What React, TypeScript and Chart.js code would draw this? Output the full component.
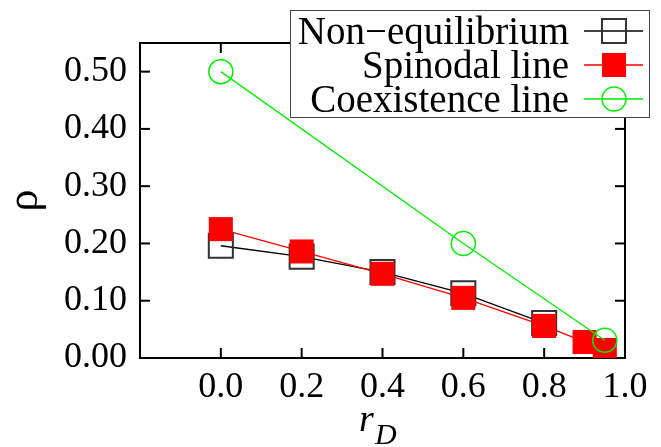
import React, { useEffect, useRef } from "react";
import { Chart, registerables } from "chart.js";

Chart.register(...registerables);

// ---- data ----
const xTickValues = [0.0, 0.2, 0.4, 0.6, 0.8, 1.0];
const yTickValues = [0.0, 0.1, 0.2, 0.3, 0.4, 0.5];
const xMin = -0.2;
const xMax = 1.0;
const yMin = 0.0;
const yMax = 0.55;

const seriesLabels = ["Non\u2212equilibrium", "Spinodal line", "Coexistence line"];

const nonEqX = [0.0, 0.2, 0.4, 0.6, 0.8];
const nonEqY = [0.196, 0.177, 0.15, 0.113, 0.061];

const spinodalX = [0.0, 0.2, 0.4, 0.6, 0.8, 0.9, 0.95];
const spinodalY = [0.225, 0.186, 0.147, 0.105, 0.056, 0.028, 0.014];

const coexX = [0.0, 0.6, 0.95];
const coexY = [0.5, 0.2, 0.031];

const xTitle = "r";
const xTitleSub = "D";
const yTitle = "\u03c1";

const FONT = "\"Liberation Serif\"";

const toPoints = (xs: number[], ys: number[]) => xs.map((x, i) => ({ x, y: ys[i] }));

const styles = [
  { color: "#000000", pointStyle: "rect", fill: "rgba(0,0,0,0)", stroke: "#333333", radius: 17, pw: 2 },
  { color: "#ff0000", pointStyle: "rect", fill: "#ff0000", stroke: "#ff0000", radius: 17, pw: 0 },
  { color: "#00ee00", pointStyle: "circle", fill: "rgba(0,0,0,0)", stroke: "#00ee00", radius: 12, pw: 1.5 },
];

const decorPlugin = {
  id: "decor",
  beforeDatasetsDraw(chart: any) {
    const { ctx, chartArea: a, scales } = chart;
    ctx.save();
    ctx.strokeStyle = "#000";
    ctx.lineWidth = 2;
    ctx.strokeRect(a.left, a.top, a.right - a.left, a.bottom - a.top);
    const tl = 10;
    const seg = (x1: number, y1: number, x2: number, y2: number) => {
      ctx.beginPath();
      ctx.moveTo(x1, y1);
      ctx.lineTo(x2, y2);
      ctx.stroke();
    };
    xTickValues.forEach((v) => {
      const px = scales.x.getPixelForValue(v);
      seg(px, a.bottom, px, a.bottom - tl);
      seg(px, a.top, px, a.top + tl);
    });
    yTickValues.forEach((v) => {
      const py = scales.y.getPixelForValue(v);
      seg(a.left, py, a.left + tl, py);
      seg(a.right, py, a.right - tl, py);
    });
    ctx.restore();
  },
  afterDraw(chart: any) {
    const { ctx, chartArea: a } = chart;
    ctx.save();
    // legend box
    const bx = 290, by = 10, bw = 359, bh = 107;
    ctx.fillStyle = "#ffffff";
    ctx.fillRect(bx, by, bw, bh);
    ctx.strokeStyle = "#444444";
    ctx.lineWidth = 1;
    ctx.strokeRect(bx + 0.5, by + 0.5, bw, bh);
    const rows = [31, 65, 99];
    ctx.font = `39px ${FONT}`;
    ctx.textAlign = "right";
    ctx.textBaseline = "alphabetic";
    seriesLabels.forEach((lab, i) => {
      const y = rows[i];
      const s = styles[i];
      ctx.fillStyle = "#000";
      ctx.fillText(lab, 569, y + 12.5);
      ctx.strokeStyle = s.color;
      ctx.lineWidth = 1.3;
      ctx.beginPath();
      ctx.moveTo(584, y);
      ctx.lineTo(643, y);
      ctx.stroke();
      const cx = 614;
      if (i === 0) {
        ctx.strokeStyle = s.stroke;
        ctx.lineWidth = 2;
        ctx.strokeRect(cx - 12, y - 12, 24, 24);
      } else if (i === 1) {
        ctx.fillStyle = s.fill;
        ctx.fillRect(cx - 12, y - 12, 24, 24);
      } else {
        ctx.strokeStyle = s.stroke;
        ctx.lineWidth = 1.5;
        ctx.beginPath();
        ctx.arc(cx, y, 12, 0, Math.PI * 2);
        ctx.stroke();
      }
    });
    // y title
    ctx.fillStyle = "#000";
    ctx.save();
    ctx.translate(37, (a.top + a.bottom) / 2);
    ctx.rotate(-Math.PI / 2);
    ctx.textAlign = "center";
    ctx.textBaseline = "alphabetic";
    ctx.font = `44px ${FONT}`;
    ctx.fillText(yTitle, 0, 0);
    ctx.restore();
    // x title
    ctx.textAlign = "left";
    ctx.textBaseline = "alphabetic";
    ctx.font = `italic 38px ${FONT}`;
    ctx.fillText(xTitle, 359, 431);
    ctx.font = `italic 30px ${FONT}`;
    ctx.fillText(xTitleSub, 375, 444);
    ctx.restore();
  },
};

export default function App() {
  const ref = useRef<HTMLCanvasElement | null>(null);
  useEffect(() => {
    document.body.style.margin = "0";
    const canvas = ref.current!;
    const sets = [
      toPoints(nonEqX, nonEqY),
      toPoints(spinodalX, spinodalY),
      toPoints(coexX, coexY),
    ];
    const chart = new Chart(canvas, {
      type: "line",
      data: {
        datasets: sets.map((d, i) => ({
          label: seriesLabels[i],
          data: d,
          borderColor: styles[i].color,
          borderWidth: 1.3,
          backgroundColor: styles[i].fill,
          pointStyle: styles[i].pointStyle as any,
          pointRadius: styles[i].radius,
          pointBackgroundColor: styles[i].fill,
          pointBorderColor: styles[i].stroke,
          pointBorderWidth: styles[i].pw,
          tension: 0,
          fill: false,
          order: 3 - i,
        })),
      },
      options: {
        animation: false,
        responsive: false,
        events: [],
        layout: { padding: { left: 0, top: 43, right: 36, bottom: 0 } },
        plugins: { legend: { display: false }, tooltip: { enabled: false } },
        scales: {
          x: {
            type: "linear",
            min: xMin,
            max: xMax,
            grid: { display: false, drawTicks: false },
            border: { display: false },
            afterBuildTicks: (s: any) => {
              s.ticks = xTickValues.map((v) => ({ value: v }));
            },
            afterFit: (s: any) => {
              s.height = 89;
            },
            ticks: {
              autoSkip: false,
              maxRotation: 0,
              padding: 8,
              color: "#000",
              font: { family: FONT, size: 36 },
              callback: (v: any) => Number(v).toFixed(1),
            },
          },
          y: {
            type: "linear",
            min: yMin,
            max: yMax,
            grid: { display: false, drawTicks: false },
            border: { display: false },
            afterBuildTicks: (s: any) => {
              s.ticks = yTickValues.map((v) => ({ value: v }));
            },
            afterFit: (s: any) => {
              s.width = 140;
            },
            ticks: {
              autoSkip: false,
              padding: 13,
              color: "#000",
              font: { family: FONT, size: 36 },
              callback: (v: any) => Number(v).toFixed(2),
            },
          },
        },
      },
      plugins: [decorPlugin],
    });
    return () => chart.destroy();
  }, []);
  return (
    <div style={{ width: 661, height: 447 }}>
      <canvas ref={ref} width={661} height={447} />
    </div>
  );
}
